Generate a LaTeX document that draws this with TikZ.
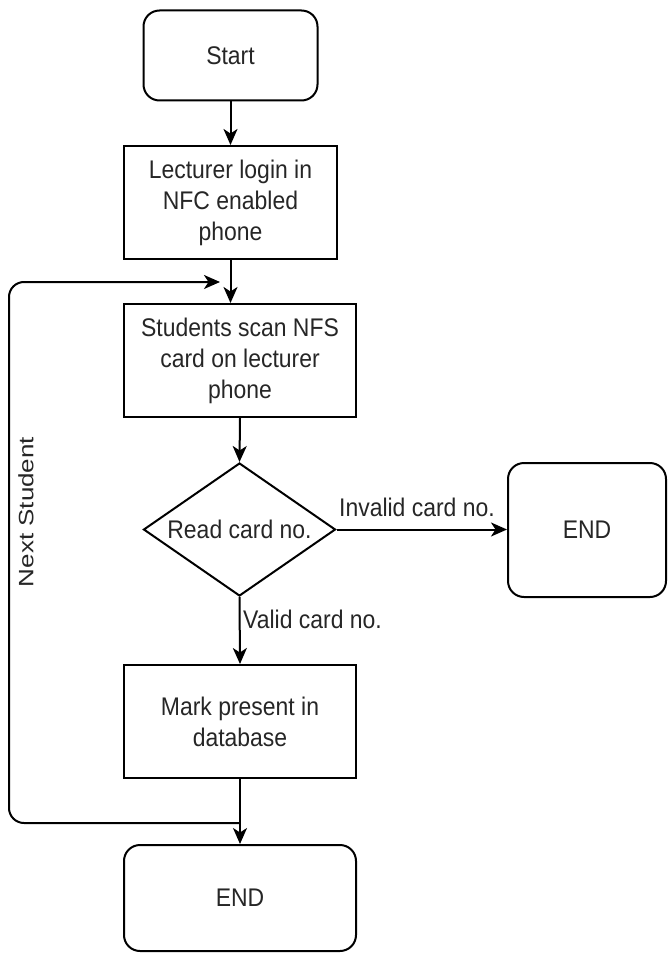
\documentclass[tikz,border=0pt]{standalone}
\usepackage{fontspec}
\setmainfont[FakeStretch=0.9]{Liberation Sans}
\newfontfamily\rotfont{Liberation Sans}
\usetikzlibrary{arrows.meta,shapes.geometric}
\definecolor{txt}{HTML}{262626}
\tikzset{
  base/.style={draw=black, line width=2pt, inner sep=0pt, text=txt, align=center,
    font=\fontsize{25.5}{31}\selectfont},
  procbox/.style={base, rectangle, minimum width=#1, minimum height=113pt},
  termbox/.style={base, rectangle, rounded corners=16pt},
  decision/.style={draw=black, line width=2pt, diamond, inner sep=0pt,
    minimum width=192pt, minimum height=133pt},
  lbl/.style={inner sep=0pt, text=txt, font=\fontsize{25.5}{31}\selectfont},
  arr/.style={line width=2pt, -{Stealth[length=16pt, width=14pt, inset=4.5pt]}},
}
\begin{document}
\begin{tikzpicture}[x=1pt, y=-1pt]
\useasboundingbox (0,0) rectangle (668,955);
% nodes
\node[termbox, minimum width=174pt, minimum height=90pt] (start) at (230.5,55.5) {Start};
\node[procbox=213pt] (lect) at (230.5,202.5) {Lecturer login in\\NFC enabled\\phone};
\node[procbox=232pt] (stud) at (240,360.5) {Students scan NFS\\card on lecturer\\phone};
\node[decision] (dec) at (239.5,529.5) {};
\node[lbl] (dectext) at (dec.center) {Read card no.};
\node[termbox, minimum width=158pt, minimum height=134pt] (endr) at (587,530) {END};
\node[procbox=232pt] (mark) at (240,721.5) {Mark present in\\database};
\node[termbox, minimum width=232pt, minimum height=106pt] (endb) at (240,898) {END};
% labels
\node[lbl] (linv) at (417,507) {Invalid card no.};
\node[lbl, anchor=west] (lval) at (243,619) {Valid card no.};
\node[rotate=90, inner sep=0pt, text=txt, font=\rotfont\fontsize{26}{30}\selectfont] (nexts) at (26,512)
  {\scalebox{1}[0.8]{Next Student}};
% loop coordinates
\coordinate (ljoin) at (240,823);
\coordinate (lbot) at (9,823);
\coordinate (ltop) at (9,282);
\coordinate (lend) at (220,282);
% connectors
\draw[arr] (start.south) -- (start.south |- lect.north);
\draw[arr] (lect.south) -- (lect.south |- stud.north);
\draw[arr] (stud.south) -- (dec.north);
\draw[arr] (dec.east) -- (endr.west |- dec.east);
\draw[arr] (dec.south) -- (mark.north);
\draw[arr] (mark.south) -- (endb.north);
\draw[arr, rounded corners=15pt] (ljoin) -- (lbot) -- (ltop) -- (lend);
\end{tikzpicture}
\end{document}
